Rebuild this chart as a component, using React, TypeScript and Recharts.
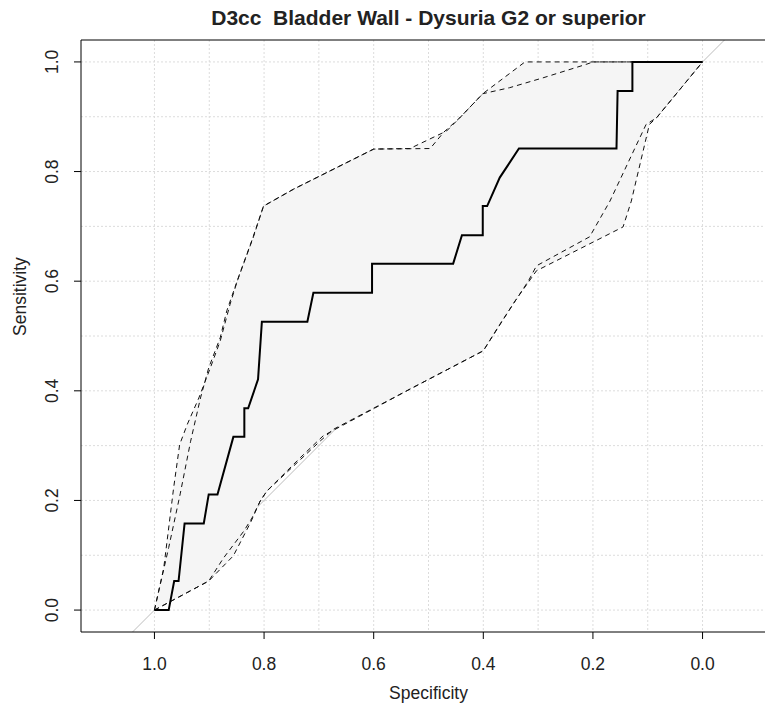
import { ComposedChart, Line, Area, XAxis, YAxis, CartesianGrid, ReferenceLine } from "recharts";

type Pt = [number, number]; // [specificity, sensitivity]

const TITLE = "D3cc  Bladder Wall - Dysuria G2 or superior";

// empirical ROC curve (step shape)
const ROC_CURVE: Pt[] = [
  [1, 0], [0.974, 0], [0.964, 0.053], [0.956, 0.053], [0.945, 0.158], [0.91, 0.158],
  [0.901, 0.211], [0.885, 0.211], [0.856, 0.316], [0.836, 0.316], [0.836, 0.368],
  [0.829, 0.368], [0.811, 0.421], [0.804, 0.526], [0.721, 0.526], [0.71, 0.579],
  [0.603, 0.579], [0.603, 0.632], [0.455, 0.632], [0.439, 0.684], [0.401, 0.684],
  [0.401, 0.737], [0.393, 0.737], [0.37, 0.789], [0.335, 0.842], [0.157, 0.842],
  [0.155, 0.947], [0.128, 0.947], [0.128, 1], [0, 1],
];

// confidence bounds, two dashed lines on each side
const CI_UPPER_OUTER: Pt[] = [
  [1, 0], [0.983, 0.077], [0.965, 0.223], [0.954, 0.302], [0.94, 0.339], [0.919, 0.387],
  [0.898, 0.442], [0.88, 0.491], [0.862, 0.558], [0.849, 0.6], [0.819, 0.682], [0.801, 0.737],
  [0.746, 0.768], [0.698, 0.792], [0.6, 0.841], [0.534, 0.842], [0.467, 0.874],
  [0.443, 0.898], [0.401, 0.942], [0.324, 1], [0, 1],
];
const CI_UPPER_INNER: Pt[] = [
  [1, 0], [0.974, 0.114], [0.953, 0.212], [0.934, 0.308], [0.916, 0.387], [0.901, 0.442],
  [0.88, 0.497], [0.868, 0.546], [0.845, 0.612], [0.822, 0.675], [0.801, 0.737],
  [0.746, 0.768], [0.698, 0.792], [0.6, 0.841], [0.497, 0.842], [0.472, 0.872],
  [0.443, 0.898], [0.401, 0.942], [0.352, 0.953], [0.291, 0.971], [0.211, 0.996],
  [0.2, 1], [0, 1],
];
const CI_LOWER_INNER: Pt[] = [
  [1, 0], [0.901, 0.053], [0.874, 0.095], [0.837, 0.144], [0.822, 0.168], [0.807, 0.199],
  [0.795, 0.217], [0.734, 0.278], [0.692, 0.318], [0.534, 0.403], [0.4, 0.473],
  [0.37, 0.521], [0.318, 0.6], [0.303, 0.628], [0.206, 0.681], [0.169, 0.746],
  [0.103, 0.886], [0.084, 0.898], [0, 1],
];
const CI_LOWER_OUTER: Pt[] = [
  [1, 0], [0.901, 0.053], [0.856, 0.099], [0.825, 0.159], [0.807, 0.199], [0.795, 0.217],
  [0.698, 0.308], [0.673, 0.33], [0.534, 0.403], [0.4, 0.473], [0.342, 0.564],
  [0.303, 0.619], [0.145, 0.699], [0.13, 0.746], [0.097, 0.886], [0.084, 0.898], [0, 1],
];

const IDENTITY: Pt[] = [[1.04, -0.04], [-0.04, 1.04]];

const X_TICKS = [1, 0.8, 0.6, 0.4, 0.2, 0];
const Y_TICKS = [0, 0.2, 0.4, 0.6, 0.8, 1];
const GRID_VALUES = [0, 0.1, 0.2, 0.3, 0.4, 0.5, 0.6, 0.7, 0.8, 0.9, 1];

const X_DOMAIN: [number, number] = [-0.134, 1.134];
const Y_DOMAIN: [number, number] = [-0.04, 1.04];

const toRows = (pts: Pt[]) => pts.map(([spec, sens]) => ({ spec, sens }));

// shaded band: upper bound forward, lower bound back
const BAND = toRows([...CI_UPPER_OUTER, ...CI_LOWER_OUTER.slice().reverse()]);

const FONT = "'Liberation Sans', Arial, sans-serif";
const TEXT = "#222";

// eslint-disable-next-line @typescript-eslint/no-explicit-any
function XTick({ x, y, payload }: any) {
  return (
    <text x={x} y={y + 29} textAnchor="middle" fontFamily={FONT} fontSize={17.5} fill={TEXT}>
      {Number(payload.value).toFixed(1)}
    </text>
  );
}

// eslint-disable-next-line @typescript-eslint/no-explicit-any
function YTick({ x, y, payload }: any) {
  const cx = x - 20;
  return (
    <text
      x={cx}
      y={y}
      transform={`rotate(-90 ${cx} ${y})`}
      textAnchor="middle"
      dominantBaseline="central"
      fontFamily={FONT}
      fontSize={17.5}
      fill={TEXT}
    >
      {Number(payload.value).toFixed(1)}
    </text>
  );
}

const dashed = { stroke: "#111", strokeWidth: 1, strokeDasharray: "5 4", dot: false, type: "linear" as const, isAnimationActive: false };

export default function App() {
  return (
    <div style={{ position: "fixed", left: 0, top: 0, width: 765, height: 706, overflow: "hidden", background: "#fff" }}>
      <div
        style={{
          position: "absolute",
          left: 0,
          top: 7,
          width: 857,
          textAlign: "center",
          whiteSpace: "pre",
          fontFamily: FONT,
          fontWeight: "bold",
          fontSize: 21,
          lineHeight: "21px",
          color: TEXT,
        }}
      >
        {TITLE}
      </div>
      <ComposedChart width={790} height={706} margin={{ top: 40, right: 14, bottom: 0, left: 0 }}>
        <CartesianGrid
          stroke="#dcdcdc"
          strokeDasharray="2 2"
          horizontalValues={GRID_VALUES}
          verticalValues={GRID_VALUES}
        />
        <XAxis
          type="number"
          dataKey="spec"
          domain={X_DOMAIN}
          reversed
          allowDataOverflow
          ticks={X_TICKS}
          interval={0}
          height={74}
          tickSize={7}
          tick={<XTick />}
          axisLine={{ stroke: "#000" }}
          tickLine={{ stroke: "#000" }}
          label={{ value: "Specificity", position: "insideBottom", offset: 7, fontFamily: FONT, fontSize: 17.5, fill: TEXT }}
        />
        <YAxis
          type="number"
          dataKey="sens"
          domain={Y_DOMAIN}
          allowDataOverflow
          ticks={Y_TICKS}
          interval={0}
          width={81}
          tickSize={7}
          tick={<YTick />}
          axisLine={{ stroke: "#000" }}
          tickLine={{ stroke: "#000" }}
          label={{ value: "Sensitivity", angle: -90, position: "insideLeft", offset: 20, fontFamily: FONT, fontSize: 17.5, fill: TEXT }}
        />
        <ReferenceLine y={Y_DOMAIN[1]} stroke="#000" />
        {/* identity line drawn as an unfilled area so it sits under the band */}
        <Area data={toRows(IDENTITY)} dataKey="sens" type="linear" baseValue={Y_DOMAIN[0]} fill="none" stroke="#bcbcbc" strokeWidth={1} isAnimationActive={false} />
        <Area data={BAND} dataKey="sens" type="linear" baseValue={0} fill="#f5f5f5" fillOpacity={1} stroke="none" isAnimationActive={false} />
        <Line data={toRows(CI_UPPER_OUTER)} dataKey="sens" {...dashed} />
        <Line data={toRows(CI_UPPER_INNER)} dataKey="sens" {...dashed} />
        <Line data={toRows(CI_LOWER_INNER)} dataKey="sens" {...dashed} />
        <Line data={toRows(CI_LOWER_OUTER)} dataKey="sens" {...dashed} />
        <Line data={toRows(ROC_CURVE)} dataKey="sens" type="linear" stroke="#000" strokeWidth={2} dot={false} isAnimationActive={false} />
      </ComposedChart>
    </div>
  );
}
